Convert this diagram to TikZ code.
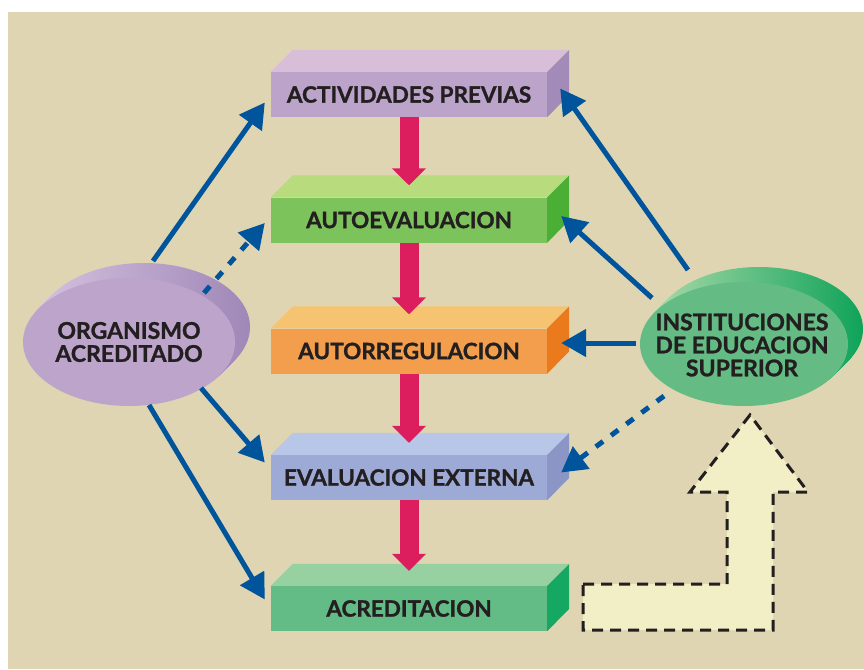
\documentclass[tikz,border=0pt]{standalone}
\usepackage{fontspec}
\setmainfont{Lato}[BoldFeatures={FakeBold=1.2}]
\usetikzlibrary{arrows.meta,calc,shapes.geometric}

\definecolor{bg}{HTML}{DFD5B2}
\definecolor{ink}{HTML}{231F20}
\definecolor{flow}{HTML}{DD1E5E}
\definecolor{link}{HTML}{00549C}
\definecolor{cream}{HTML}{F2EEC5}
% box faces: front / top / side
\definecolor{aF}{HTML}{BBA3CA}\definecolor{aT}{HTML}{D9BEDA}\definecolor{aS}{HTML}{A38BB9}
\definecolor{bF}{HTML}{7DC35B}\definecolor{bT}{HTML}{B8DB7E}\definecolor{bS}{HTML}{4BAF36}
\definecolor{cF}{HTML}{F29E4C}\definecolor{cT}{HTML}{F6C470}\definecolor{cS}{HTML}{EA7A1C}
\definecolor{dF}{HTML}{9DAAD6}\definecolor{dT}{HTML}{B8C7E8}\definecolor{dS}{HTML}{8B95C6}
\definecolor{eF}{HTML}{63BB85}\definecolor{eT}{HTML}{98D1A1}\definecolor{eS}{HTML}{14A862}
% ellipse discs: front / rim light / rim dark
\definecolor{oF}{HTML}{BCA4CA}\definecolor{oL}{HTML}{D4C1DF}\definecolor{oD}{HTML}{A087B7}
\definecolor{iF}{HTML}{64BC84}\definecolor{iL}{HTML}{A8D8A8}\definecolor{iD}{HTML}{0FA359}

\tikzset{
  frontface/.style={rectangle, minimum width=276pt, minimum height=45pt, inner sep=0pt,
    text=ink, font=\bfseries\fontsize{22.5}{22.5}\selectfont},
  disclabel/.style={inner sep=0pt, align=center, text=ink,
    font=\bfseries\fontsize{23}{23}\selectfont},
  flowarrow/.style={draw=flow, line width=19pt, -{Triangle[width=33pt,length=17pt]}},
  linkarrow/.style={draw=link, line width=5pt, -{Triangle[width=27pt,length=25pt]}},
  linkdashed/.style={linkarrow, dash pattern=on 9pt off 10pt},
  bigarrow/.style={fill=cream, draw=ink, line width=3pt, dash pattern=on 11pt off 7pt}
}

% 3D bar: name, centre y, front, top, side colours, label
\newcommand\prismbox[6]{%
  \node[frontface, fill=#3] (#1) at (409,#2) {#6};
  \fill[#4] (#1.north west) -- ++(22,-22) -- ++(276,0) -- (#1.north east) -- cycle;
  \fill[#5] (#1.north east) -- ++(22,-22) -- ++(0,45) -- (#1.south east) -- cycle;
}

% extruded disc: centre x, centre y, rx, ry, front, rim light, rim dark
\newcommand\discbody[7]{%
  \foreach \k in {1,2,...,15}{%
    \shade[left color=#6, right color=#7] (#1+\k,#2-\k) ellipse [x radius=#3, y radius=#4];
  }%
  \fill[#5] (#1,#2) ellipse [x radius=#3, y radius=#4];
}

\begin{document}
\begin{tikzpicture}[x=1pt,y=-1pt]
\useasboundingbox (0,0) rectangle (864,669);
\fill[white] (0,0) rectangle (864,669);
\fill[bg] (8,12) rectangle (864,669);

% process bars
\prismbox{b1}{94.5}{aF}{aT}{aS}{ACTIVIDADES PREVIAS}
\prismbox{b2}{220}{bF}{bT}{bS}{AUTOEVALUACION}
\prismbox{b3}{351}{cF}{cT}{cS}{AUTORREGULACION}
\prismbox{b4}{477.5}{dF}{dT}{dS}{EVALUACION EXTERNA}
\prismbox{b5}{608.5}{eF}{eT}{eS}{ACREDITACION}

% sequence arrows
\draw[flowarrow] (b1.south) -- ($(b2.north)+(0,-12)$);
\draw[flowarrow] (b2.south) -- ($(b3.north)+(0,-14)$);
\draw[flowarrow] (b3.south) -- ($(b4.north)+(0,-12)$);
\draw[flowarrow] (b4.south) -- ($(b5.north)+(0,-15)$);

% discs
\discbody{129}{342}{106}{64}{oF}{oL}{oD}
\node[disclabel] (org) at (129,342) {ORGANISMO\\ACREDITADO};
\discbody{744}{344}{104}{62}{iF}{iL}{iD}
\node[disclabel] (ies) at (742,345) {INSTITUCIONES\\DE EDUCACION\\SUPERIOR};

% links from the accrediting body
\coordinate (o1) at (153,261);
\coordinate (o2) at (204,293);
\coordinate (o3) at (201,388);
\coordinate (o4) at (149,405);
\draw[linkarrow]  (o1) -- ($(b1.west)+(-6,8)$);
\draw[linkdashed] (o2) -- ($(b2.west)+(-6,3)$);
\draw[linkarrow]  (o3) -- ($(b4.west)+(-6,-15)$);
\draw[linkarrow]  (o4) -- ($(b5.west)+(-6,-9)$);

% links from the institutions
\coordinate (i1) at (688,270);
\coordinate (i2) at (652,298);
\coordinate (i3) at (636,343);
\coordinate (i4) at (664,396);
\draw[linkarrow]  (i1) -- ($(b1.east)+(13,-6)$);
\draw[linkarrow]  (i2) -- ($(b2.east)+(14,-4)$);
\draw[linkarrow]  (i3) -- ($(b3.east)+(14,-8)$);
\draw[linkdashed] (i4) -- ($(b4.east)+(14,-5)$);

% dashed bent arrow
\draw[bigarrow] (583,584) -- (727,584) -- (727,492) -- (690,492) -- (750,415)
  -- (808,492) -- (773,492) -- (773,630) -- (583,630) -- cycle;
\end{tikzpicture}
\end{document}
